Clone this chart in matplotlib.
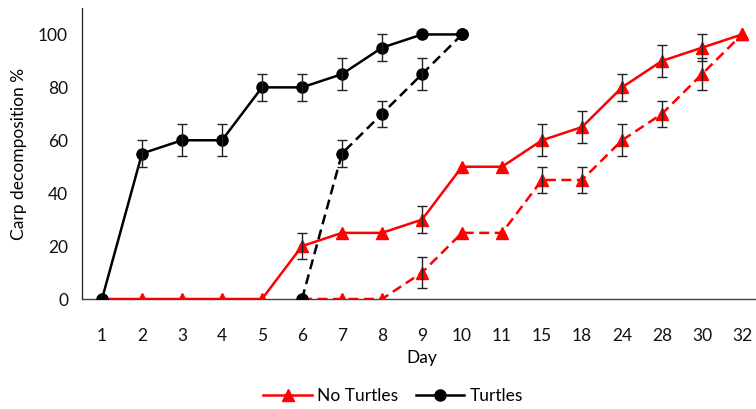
import matplotlib
matplotlib.use("Agg")
import matplotlib.pyplot as plt
from matplotlib.lines import Line2D
import numpy as np

plt.rcParams['font.family'] = ['Lato', 'DejaVu Sans']

days = ["1", "2", "3", "4", "5", "6", "7", "8", "9", "10", "11", "15", "18", "24", "28", "30", "32"]

# Turtles, solid (days 1-10)
turt_solid = [0, 55, 60, 60, 80, 80, 85, 95, 100, 100]
turt_solid_err = [0, 5, 6, 6, 5, 5, 6, 5, 0, 0]
# Turtles, dashed (days 6-10)
turt_dash = [0, 55, 70, 85, 100]
turt_dash_err = [0, 5, 5, 6, 0]
# No turtles, solid (days 1-32)
no_solid = [0, 0, 0, 0, 0, 20, 25, 25, 30, 50, 50, 60, 65, 80, 90, 95, 100]
no_solid_err = [0, 0, 0, 0, 0, 5, 0, 0, 5, 0, 0, 6, 6, 5, 6, 5, 0]
# No turtles, dashed (days 6-32)
no_dash = [0, 0, 0, 10, 25, 25, 45, 45, 60, 70, 85, 100]
no_dash_err = [0, 0, 0, 6, 0, 0, 5, 5, 6, 5, 6, 0]

fig = plt.figure(figsize=(7.56, 4.09), dpi=100)
ax = fig.add_axes([82/756, 110/409, 680/756, 291/409])

x = np.arange(len(days))
RED = "#ff0000"
FS = 12.5

def draw(xs, ys, err, color, marker, dashed, ms):
    xs = np.asarray(xs); ys = np.asarray(ys); err = np.asarray(err, float)
    line, = ax.plot(xs, ys, color=color, lw=1.8, marker=marker, ms=ms,
                    markeredgecolor=color, markerfacecolor=color, zorder=3)
    if dashed:
        line.set_dashes((4, 2.2))
    m = err > 0
    ax.errorbar(xs[m], ys[m], yerr=err[m], fmt='none', ecolor='#222222',
                elinewidth=1.0, capsize=3.5, capthick=1.0, zorder=4)

draw(x[5:], no_dash, no_dash_err, RED, '^', True, 8)
draw(x, no_solid, no_solid_err, RED, '^', False, 8)
draw(x[5:10], turt_dash, turt_dash_err, 'black', 'o', True, 8)
draw(x[:10], turt_solid, turt_solid_err, 'black', 'o', False, 8)

ax.set_xlim(-0.5, len(days) - 0.5)
ax.set_ylim(0, 110)
ax.set_xticks(x)
ax.set_xticklabels(days)
ax.set_yticks([0, 20, 40, 60, 80, 100])
ax.tick_params(axis='both', length=0, labelsize=FS, colors='#111111')
ax.tick_params(axis='x', pad=21)
ax.tick_params(axis='y', pad=10)
for s in ['top', 'right']:
    ax.spines[s].set_visible(False)
ax.spines['left'].set_color('#222222')
ax.spines['left'].set_linewidth(0.9)
ax.spines['bottom'].set_color('#444444')
ax.spines['bottom'].set_linewidth(1.0)

ax.set_xlabel("Day", fontsize=FS, labelpad=4)
ax.set_ylabel("Carp decomposition %", fontsize=FS, labelpad=8)

handles = [Line2D([], [], color=RED, lw=1.8, marker='^', ms=8),
           Line2D([], [], color='black', lw=1.8, marker='o', ms=8)]
fig.legend(handles, ["No Turtles", "Turtles"], loc='center', ncol=2,
           bbox_to_anchor=(0.52, 0.032), frameon=False, fontsize=FS,
           handlelength=2.8, columnspacing=1.0, handletextpad=0.3)

fig.savefig("out.png", dpi=100)
